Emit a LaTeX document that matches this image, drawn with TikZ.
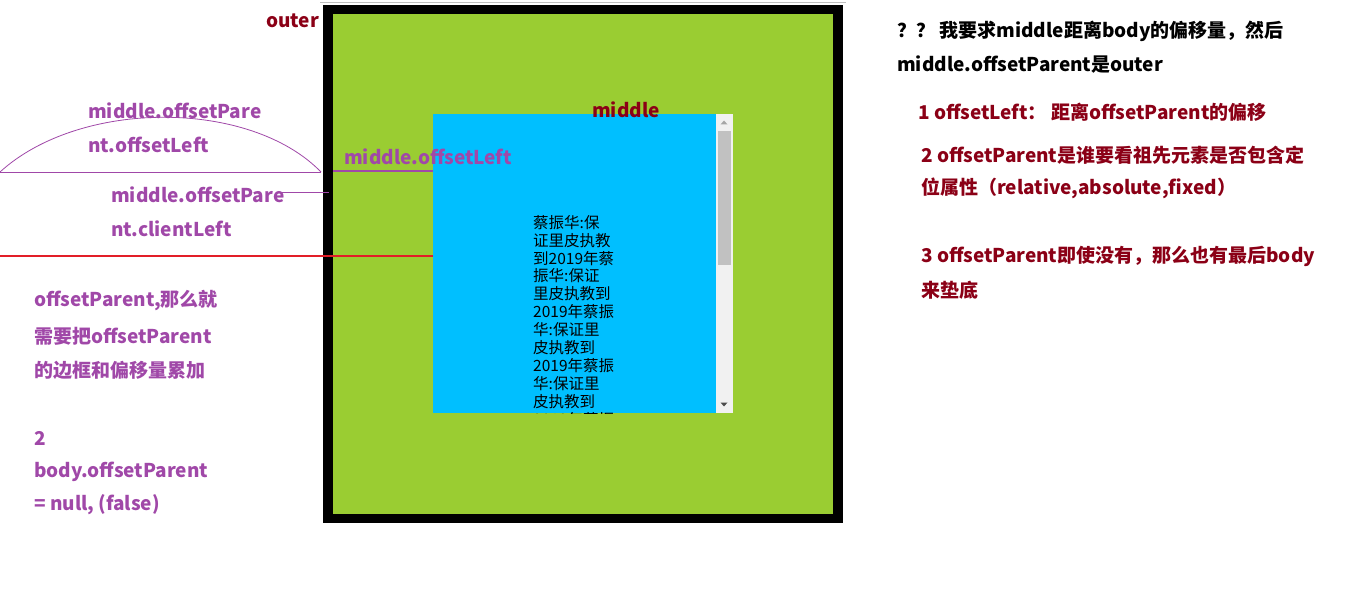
\documentclass[tikz,border=0pt]{standalone}
\usepackage{fontspec}
\newfontfamily\yh{Noto Sans CJK SC}
\definecolor{ygreen}{RGB}{154,205,50}
\definecolor{dsblue}{RGB}{0,191,255}
\definecolor{purp}{RGB}{160,72,168}
\definecolor{dred}{RGB}{139,0,22}
\definecolor{redline}{RGB}{226,30,40}
\definecolor{sbar}{RGB}{241,241,241}
\definecolor{sthumb}{RGB}{193,193,193}
\tikzset{
  x=1pt,y=-1pt,
  lbl/.style={inner sep=0pt,anchor=west,font=\yh\bfseries\fontsize{19}{22}\selectfont},
  plbl/.style={lbl,text=purp},
  rlbl/.style={lbl,text=dred},
  klbl/.style={lbl,text=black},
  pline/.style={draw=purp,line width=0.8pt},
}
\begin{document}
\begin{tikzpicture}
\useasboundingbox (0,0) rectangle (1360,591);
% top grey line
\coordinate (g1) at (320,3); \coordinate (g2) at (846,3);
\draw[black!25,line width=1pt] (g1) -- (g2);
% outer box
\fill[black] (323,5) rectangle (843,523);
\fill[ygreen] (333,14) rectangle (833,514);
\node[rlbl,anchor=east] (outer) at (319,21) {outer};
% middle box
\fill[dsblue] (433,114) rectangle (716,413);
\fill[sbar] (716,114) rectangle (733,413);
\fill[sthumb] (718,131) rectangle (731,265);
\fill[black!35] (720.5,124.5) -- (727.5,124.5) -- (724,120.5) -- cycle;
\fill[black!70] (720.5,402.5) -- (727.5,402.5) -- (724,406.5) -- cycle;
\begin{scope}
\clip (433,114) rectangle (716,413);
\node[anchor=north west,inner sep=0pt,align=left,font=\yh\fontsize{15.5}{17.9}\selectfont] (content) at (533,215)
{蔡振华:保\\证里皮执教\\到2019年蔡\\振华:保证\\里皮执教到\\2019年蔡振\\华:保证里\\皮执教到\\2019年蔡振\\华:保证里\\皮执教到\\2019年蔡振};
\end{scope}
\node[rlbl] (middle) at (592,110) {middle};
% offsetLeft annotations
\node[plbl] (mol) at (344,157) {middle.offsetLeft};
\coordinate (ol1) at (333,171); \coordinate (ol2) at (433,171);
\draw[purp,line width=2.5pt] (ol1) -- (ol2);
\node[plbl] (pol1) at (88,111) {middle.offsetPare};
\node[plbl] (pol2) at (88,145) {nt.offsetLeft};
\coordinate (a1) at (0,172); \coordinate (a2) at (321,172);
\draw[pline] (a1) -- (a2);
\draw[pline] (a1) .. controls (80,99) and (250,99) .. (a2);
\node[plbl] (pcl1) at (111,195) {middle.offsetPare};
\node[plbl] (pcl2) at (111,229) {nt.clientLeft};
\coordinate (c1) at (282,192); \coordinate (c2) at (329,192);
\draw[pline] (c1) -- (c2);
\coordinate (r1) at (0,256); \coordinate (r2) at (433,256);
\draw[redline,line width=2.5pt] (r1) -- (r2);
% left notes
\node[plbl] (n1) at (34,301) {offsetParent,那么就};
\node[plbl] (n2) at (34,336) {需要把offsetParent};
\node[plbl] (n3) at (34,370) {的边框和偏移量累加};
\node[plbl] (n4) at (34,438) {2};
\node[plbl] (n5) at (34,472) {body.offsetParent};
\node[plbl] (n6) at (34,505) {= null, (false)};
% right notes
\node[klbl] (k1) at (897,31) {？？ 我要求middle距离body的偏移量，然后};
\node[klbl] (k2) at (897,65) {middle.offsetParent是outer};
\node[rlbl] (q1) at (918,112) {1 offsetLeft： 距离offsetParent的偏移};
\node[rlbl] (q2) at (921,155) {2 offsetParent是谁要看祖先元素是否包含定};
\node[rlbl] (q3) at (921,188) {位属性（relative,absolute,fixed）};
\node[rlbl] (q4) at (921,256) {3 offsetParent即使没有，那么也有最后body};
\node[rlbl] (q5) at (921,290) {来垫底};
\end{tikzpicture}
\end{document}
